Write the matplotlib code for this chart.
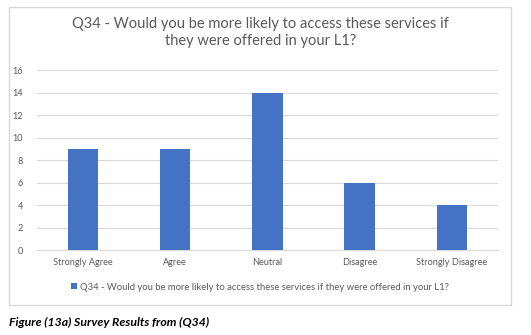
import matplotlib.pyplot as plt
from matplotlib.patches import Rectangle

categories = ['Strongly Agree', 'Agree', 'Neutral', 'Disagree', 'Strongly Disagree']
counts = [9, 9, 14, 6, 4]
yticks = [0, 2, 4, 6, 8, 10, 12, 14, 16]
series_name = 'Q34 - Would you be more likely to access these services if they were offered in your L1?'
title = 'Q34 - Would you be more likely to access these services if\nthey were offered in your L1?'
caption = 'Figure (13a) Survey Results from (Q34)'

plt.rcParams['font.family'] = ['Lato', 'DejaVu Sans']
bar_color = '#4472C4'
text_color = '#595959'
grid_color = '#D9D9D9'

fig = plt.figure(figsize=(5.31, 3.35), dpi=100)

# chart frame
fig.patches.append(Rectangle((0.017, 0.0896), 0.945, 0.8896, transform=fig.transFigure,
                             fill=False, edgecolor=grid_color, linewidth=1.0))

ax = fig.add_axes([0.0697, 0.2537, 0.868, 0.5373])
x = range(len(categories))
ax.bar(x, counts, width=0.33, color=bar_color, label=series_name, zorder=3)
ax.set_xlim(-0.5, len(categories) - 0.5)
ax.set_ylim(0, 16)
ax.set_yticks(yticks)
ax.set_xticks(list(x))
ax.set_xticklabels(categories)
ax.tick_params(axis='both', length=0, labelsize=6.6, colors=text_color)
ax.tick_params(axis='y', pad=10)
ax.tick_params(axis='x', pad=6)
ax.yaxis.grid(True, color=grid_color, linewidth=0.8, zorder=0)
for s in ['top', 'right', 'left']:
    ax.spines[s].set_visible(False)
ax.spines['bottom'].set_color(grid_color)
ax.spines['bottom'].set_linewidth(0.8)

fig.text(0.49, 0.904, title, ha='center', va='center', fontsize=10.5, color=text_color,
         linespacing=1.3)

leg = fig.legend(loc='center', bbox_to_anchor=(0.49, 0.143), frameon=False, fontsize=6.8,
                 handlelength=0.6, handleheight=0.6, handletextpad=0.4)
for t in leg.get_texts():
    t.set_color(text_color)

fig.text(0.017, 0.036, caption, ha='left', va='center', fontsize=8.8, fontweight='bold',
         fontstyle='italic', color='black')

fig.savefig('out.png', dpi=100)
